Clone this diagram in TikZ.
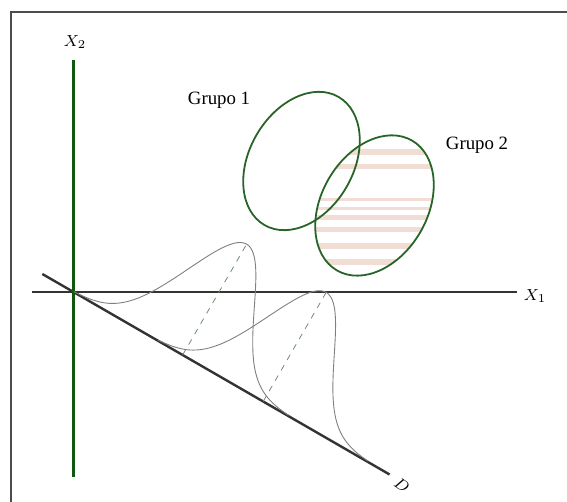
\documentclass[tikz,border=0pt]{standalone}
\usepackage{fontspec}
\setmainfont{Liberation Serif}
\usetikzlibrary{positioning, calc}
\definecolor{axisgreen}{RGB}{16,88,16}
\definecolor{ellgreen}{RGB}{40,100,40}
\definecolor{stripe}{RGB}{241,221,212}
\definecolor{dashgreen}{RGB}{110,140,110}

\begin{document}
\begin{tikzpicture}[
    x=0.5pt, y=0.5pt,
    frame/.style={line width=1.3pt, black!70},
    axis/.style={line width=1pt, black!80},
    bell/.style={gray, line width=0.45pt, smooth, samples=90},
    peak/.style={dashgreen, dashed, line width=0.4pt},
    group/.style={ellgreen, line width=0.9pt},
    lbl/.style={font=\fontsize{9.4}{11}\selectfont, inner sep=0pt},
    axlbl/.style={font=\fontsize{8.5}{10}\selectfont, inner sep=0pt}
  ]
  \useasboundingbox (0,0) rectangle (567,502);
  \draw[frame] (11,0) -- (11,490) -- (567,490);

  \coordinate (O) at (73.5,210);
  \coordinate (x1start) at (32,210);
  \coordinate (x1end) at (517,210);
  \coordinate (x2top) at (73.5,442);
  \coordinate (x2bot) at (73.5,25);
  \coordinate (dstart) at ($(O)+(150:36)$);
  \coordinate (dend) at ($(O)+(-30:365)$);
  \coordinate (E1) at (301.5,341);
  \coordinate (E2) at (374.5,296.5);

  \begin{scope}
    \clip (E2) ellipse [x radius=75, y radius=53, rotate=60];
    \foreach \ypos/\thick in {350.3/6, 335.3/5, 302/3, 293.7/3, 284.7/5, 272/5, 256/6, 240.3/6}
      \fill[stripe] (290,{\ypos-\thick/2}) rectangle (460,{\ypos+\thick/2});
  \end{scope}

  \draw[axis] (x1start) -- (x1end);
  \draw[axis, line width=1.2pt] (dstart) -- (dend);
  \draw[axisgreen, line width=1.5pt] (x2bot) -- (x2top);

  \begin{scope}[shift={(O)}, rotate=-30]
    \draw[bell] plot[domain=0:248] (\x, {128*exp(-0.5*((\x-126)/38)^2)});
    \draw[bell] plot[domain=97:340] (\x, {126*exp(-0.5*((\x-219)/38)^2)});
    \draw[peak] (126,0) -- (126,128);
    \draw[peak] (219,0) -- (219,126);
  \end{scope}

  \draw[group] (E1) ellipse [x radius=74, y radius=52, rotate=60];
  \draw[group] (E2) ellipse [x radius=75, y radius=53, rotate=60];

  \node[axlbl] (lx2) at (75,460) {$X_2$};
  \node[axlbl] (lx1) at (535,206) {$X_1$};
  \node[axlbl, rotate=-35] (ld) at (402,17) {$D$};
  \node[lbl] (g1) at (219,402) {Grupo 1};
  \node[lbl] (g2) at (477,357) {Grupo 2};
\end{tikzpicture}
\end{document}
